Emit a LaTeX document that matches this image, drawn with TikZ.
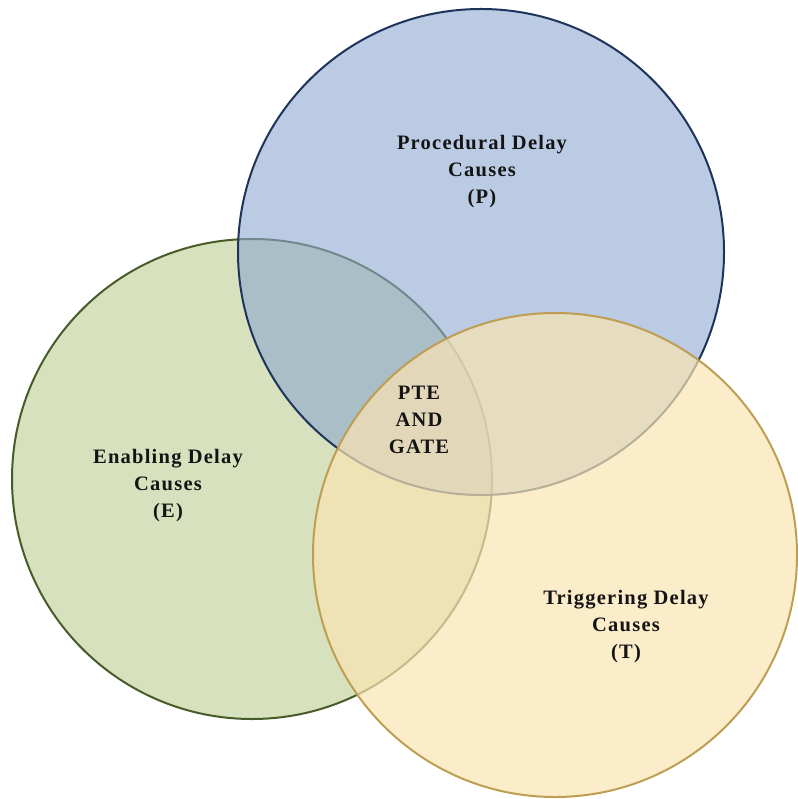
\documentclass[tikz,border=0pt]{standalone}
\usepackage{fontspec}
\setmainfont{Liberation Serif}
\newfontfamily\lblfont[LetterSpace=6]{Liberation Serif}
\definecolor{efill}{RGB}{215,225,189}
\definecolor{eline}{RGB}{72,92,42}
\definecolor{pfill}{RGB}{140,168,208}
\definecolor{pline}{RGB}{30,52,90}
\definecolor{tfill}{RGB}{250,228,179}
\definecolor{tline}{RGB}{190,158,82}
\tikzset{
  setcircle/.style={circle, line width=2pt, inner sep=0pt},
  lbl/.style={align=center, font=\lblfont\fontsize{20.5}{27}\selectfont\bfseries, text=black!92}
}
\begin{document}
\begin{tikzpicture}[x=1pt,y=-1pt]
\useasboundingbox (0,0) rectangle (797,799);
\node[setcircle, minimum size=480pt, draw=eline, fill=efill] (E) at (252,479) {};
\node[setcircle, minimum size=486pt, draw=pline, fill=pfill, fill opacity=0.6] (P) at (481,252) {};
\node[setcircle, minimum size=484pt, draw=tline, fill=tfill, fill opacity=0.7] (T) at (555,555) {};
\node[lbl] (pl) at (482,172) {Procedural Delay\\Causes\\(P)};
\node[lbl] (el) at (168,486) {Enabling Delay\\Causes\\(E)};
\node[lbl] (tl) at (626,627) {Triggering Delay\\Causes\\(T)};
\node[lbl] (gl) at (419,420) {PTE\\AND\\GATE};
\end{tikzpicture}
\end{document}
